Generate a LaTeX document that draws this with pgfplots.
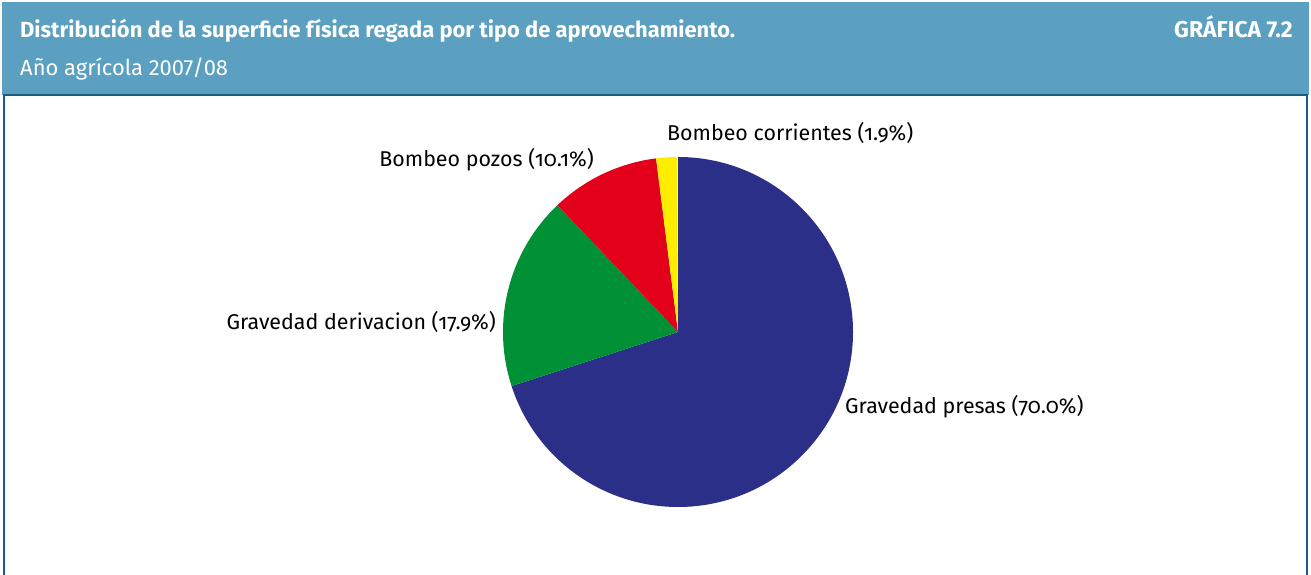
\documentclass[border=0pt]{standalone}
\usepackage{pgfplots}
\pgfplotsset{compat=1.18}
\usepackage{fontspec}
\setmainfont{Fira Sans}[Numbers=OldStyle]
\newfontfamily\headfont{Fira Sans}[Numbers=Lining]
\definecolor{headbg}{HTML}{5BA0C0}
\definecolor{headline}{HTML}{1B5C82}
\definecolor{cpres}{HTML}{2B2F87}
\definecolor{cder}{HTML}{009036}
\definecolor{cpoz}{HTML}{E2001A}
\definecolor{ccor}{HTML}{FFED00}
\begin{document}
\begin{tikzpicture}[x=1bp,y=1bp]
\useasboundingbox (0,0) rectangle (1311,575);
\fill[white] (0,0) rectangle (1311,575);
\begin{scope}
\clip (0,0) rectangle (1311,575);
\fill[headbg] (2,480) rectangle (1309,573);
\draw[headline,line width=2bp] (4,-5) rectangle (1307,480);
\end{scope}
\node[anchor=base west,text=white,inner sep=0pt,font=\headfont\bfseries\fontsize{22}{24}\selectfont] at (20,537) {Distribución de la superficie física regada por tipo de aprovechamiento.};
\node[anchor=base west,text=white,inner sep=0pt,font=\headfont\fontsize{22}{24}\selectfont] at (20,499) {Año agrícola 2007/08};
\node[anchor=base east,text=white,inner sep=0pt,font=\headfont\bfseries\fontsize{23}{25}\selectfont] at (1293,537) {GRÁFICA 7.2};
\begin{axis}[
  at={(678,243)}, anchor=center,
  x=1bp, y=1bp,
  xmin=-200, xmax=200, ymin=-200, ymax=200,
  hide axis, clip=false,
]
\gdef\curang{90}
\foreach \v/\c in {70.0/cpres,17.9/cder,10.1/cpoz,1.9/ccor} {
  \pgfmathsetmacro\endang{\curang-3.6*\v}
  \edef\temp{\noexpand\fill[\c] (axis cs:0,0) -- ++(\curang:175bp) arc[start angle=\curang, end angle=\endang, radius=175bp] -- cycle;}
  \temp
  \xdef\curang{\endang}
}
\begin{scope}[every node/.style={inner sep=0pt,font=\fontsize{21.5}{23}\selectfont}]
\node[anchor=west] at (axis cs:167,-75) {Gravedad presas (70.0\%)};
\node[anchor=east] at (axis cs:-182,10) {Gravedad derivacion (17.9\%)};
\node[anchor=east] at (axis cs:-84,172) {Bombeo pozos (10.1\%)};
\node[anchor=west] at (axis cs:-11,199) {Bombeo corrientes (1.9\%)};
\end{scope}
\end{axis}
\end{tikzpicture}
\end{document}
